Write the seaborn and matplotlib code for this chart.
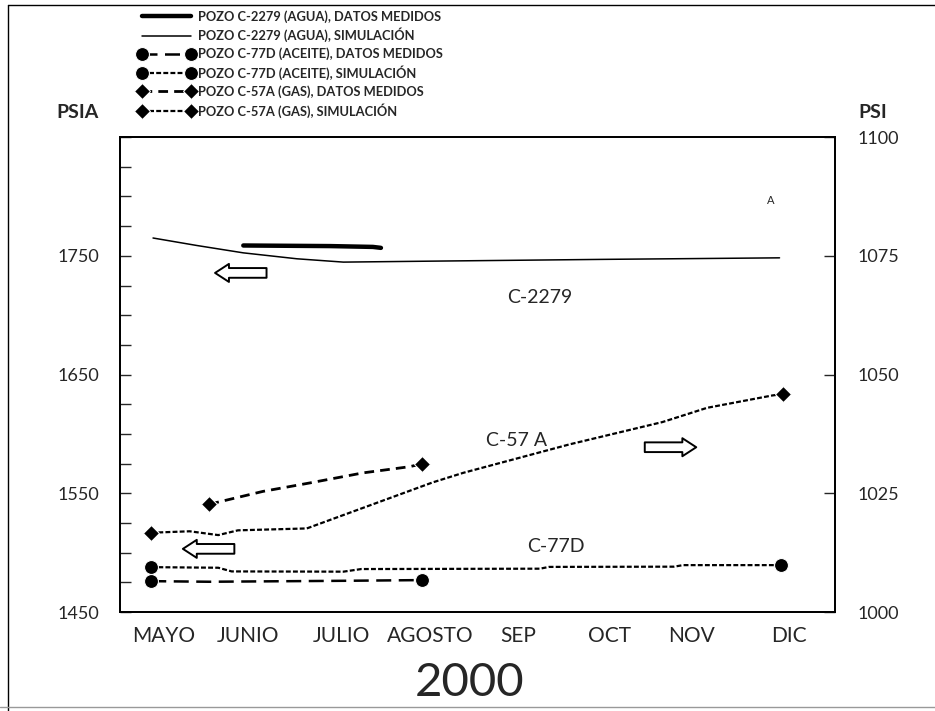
"""
Presiones medidas vs simuladas, pozos C-2279, C-77D y C-57A (2000)
"""

import matplotlib
matplotlib.use("Agg")
import matplotlib.pyplot as plt
from matplotlib.lines import Line2D
import seaborn as sns

sns.set_style("white")
plt.rcParams["font.family"] = ["Lato", "DejaVu Sans"]

# x axis: one unit = one month, starting in MAYO
meses = ["MAYO", "JUNIO", "JULIO", "AGOSTO", "SEP", "OCT", "NOV", "DIC"]
mes_pos = [0.49, 1.43, 2.48, 3.47, 4.46, 5.48, 6.39, 7.49]

# C-2279 (agua), PSIA (left axis)
c2279_med_x = [1.38, 2.35, 2.83, 2.92]
c2279_med_y = [1758.7, 1758.2, 1757.5, 1756.7]
c2279_sim_x = [0.37, 0.86, 1.38, 1.98, 2.50, 3.47, 5.4, 7.38]
c2279_sim_y = [1765.0, 1758.7, 1752.5, 1747.5, 1744.7, 1745.5, 1747.0, 1748.3]

# C-77D (aceite), PSIA (left axis)
c77d_med_x = [0.35, 1.0, 2.5, 3.38]
c77d_med_y = [1476.0, 1475.5, 1476.3, 1476.9]
c77d_sim_x = [0.35, 1.1, 1.25, 2.5, 2.7, 4.7, 4.8, 6.2, 6.3, 7.4]
c77d_sim_y = [1487.8, 1487.3, 1484.2, 1484.0, 1486.2, 1486.5, 1488.0, 1488.2, 1489.5, 1489.5]

# C-57A (gas), PSI (right axis)
c57a_med_x = [1.0, 1.6, 2.13, 2.72, 3.24, 3.38]
c57a_med_y = [1022.7, 1025.4, 1027.2, 1029.3, 1030.6, 1031.2]
c57a_sim_x = [0.35, 0.78, 1.1, 1.32, 2.09, 3.5, 3.84, 5.03, 6.07, 6.57, 7.3, 7.42]
c57a_sim_y = [1016.7, 1017.0, 1016.2, 1017.2, 1017.6, 1027.3, 1029.3, 1035.3, 1040.0, 1043.0, 1045.6, 1045.9]

fig = plt.figure(figsize=(9.35, 7.11), dpi=100)
ax = fig.add_axes([0.1283, 0.1392, 0.7647, 0.668])
ax2 = ax.twinx()

fine = (0, (2.2, 1.0))
lines = []

sns.lineplot(x=c2279_med_x, y=c2279_med_y, ax=ax, color="black", lw=3.2)
lines.append(ax.lines[-1])
sns.lineplot(x=c2279_sim_x, y=c2279_sim_y, ax=ax, color="black", lw=1.1)
lines.append(ax.lines[-1])
sns.lineplot(x=c77d_med_x, y=c77d_med_y, ax=ax, color="black", lw=1.8,
             linestyle=(0, (6, 3)), marker="o", markersize=10, markevery=[0, -1])
lines.append(ax.lines[-1])
sns.lineplot(x=c77d_sim_x, y=c77d_sim_y, ax=ax, color="black", lw=1.6,
             linestyle=fine, marker="o", markersize=10, markevery=[0, -1])
lines.append(ax.lines[-1])
sns.lineplot(x=c57a_med_x, y=c57a_med_y, ax=ax2, color="black", lw=2.0,
             linestyle=(0, (3.5, 2.2)), marker="D", markersize=8, markevery=[0, -1])
lines.append(ax2.lines[-1])
sns.lineplot(x=c57a_sim_x, y=c57a_sim_y, ax=ax2, color="black", lw=1.6,
             linestyle=fine, marker="D", markersize=8, markevery=[0, -1])
lines.append(ax2.lines[-1])

labels = [
    "POZO C-2279 (AGUA), DATOS MEDIDOS",
    "POZO C-2279 (AGUA), SIMULACIÓN",
    "POZO C-77D (ACEITE), DATOS MEDIDOS",
    "POZO C-77D (ACEITE), SIMULACIÓN",
    "POZO C-57A (GAS), DATOS MEDIDOS",
    "POZO C-57A (GAS), SIMULACIÓN",
]

# axes
ax.set_xlim(0, 8)
ax.set_ylim(1450, 1850)
ax2.set_ylim(1000, 1100)
ax.set_xlabel("")
ax.set_ylabel("")
ax2.set_ylabel("")

ax.set_xticks(range(1, 8))
ax.set_xticklabels([])
ax.set_xticks(mes_pos, minor=True)
ax.set_xticklabels(meses, minor=True, fontsize=15)
ax.tick_params(axis="x", which="major", direction="in", length=7, width=1)
ax.tick_params(axis="x", which="minor", length=0, pad=10)

ax.set_yticks([1450, 1550, 1650, 1750])
ax.set_yticks(range(1450, 1851, 25), minor=True)
ax.tick_params(axis="y", which="both", direction="in", length=8, width=1,
               labelsize=13, pad=15, left=True, right=False)
ax2.set_yticks([1000, 1025, 1050, 1075, 1100])
ax2.tick_params(axis="y", direction="in", length=8, width=1, labelsize=13,
                pad=16, right=True)

for a in (ax, ax2):
    for s in a.spines.values():
        s.set_color("black")
        s.set_linewidth(1.3)
    a.grid(False)

# annotations inside the plot
ax.text(0.587, 0.663, "C-2279", transform=ax.transAxes, fontsize=14, ha="center", va="center")
ax.text(0.554, 0.362, "C-57 A", transform=ax.transAxes, fontsize=14, ha="center", va="center")
ax.text(0.61, 0.139, "C-77D", transform=ax.transAxes, fontsize=14, ha="center", va="center")
ax.text(0.91, 0.867, "A", transform=ax.transAxes, fontsize=8, ha="center", va="center")

arrow = dict(arrowstyle="simple,head_length=1.0,head_width=1.3,tail_width=0.7",
             fc="white", ec="black", lw=1.4, shrinkA=0, shrinkB=0)
ax.annotate("", xy=(0.133, 0.714), xytext=(0.205, 0.714),
            xycoords="axes fraction", arrowprops=arrow)
ax.annotate("", xy=(0.088, 0.133), xytext=(0.160, 0.133),
            xycoords="axes fraction", arrowprops=arrow)
ax.annotate("", xy=(0.806, 0.347), xytext=(0.734, 0.347),
            xycoords="axes fraction", arrowprops=arrow)

# outside text
fig.text(78 / 935, 1 - 112 / 711, "PSIA", fontsize=14, fontweight="bold", ha="center", va="center")
fig.text(873 / 935, 1 - 112 / 711, "PSI", fontsize=14, fontweight="bold", ha="center", va="center")
fig.text(470 / 935, 1 - 683 / 711, "2000", fontsize=34, ha="center", va="center")

fig.legend(lines, labels, loc="upper left", bbox_to_anchor=(0.148, 0.986),
           frameon=False, numpoints=2, handlelength=4.4, handletextpad=0.25,
           labelspacing=0.4, borderpad=0, borderaxespad=0,
           prop={"weight": "bold", "size": 9.3})

# frame around the picture
fig.add_artist(Line2D([8 / 935, 8 / 935], [0, 1 - 5 / 711], transform=fig.transFigure, color="black", lw=1))
fig.add_artist(Line2D([8 / 935, 1], [1 - 5 / 711, 1 - 5 / 711], transform=fig.transFigure, color="black", lw=1))
fig.add_artist(Line2D([0, 1], [4 / 711, 4 / 711], transform=fig.transFigure, color="#999999", lw=1))

fig.savefig("out.png", dpi=100)
